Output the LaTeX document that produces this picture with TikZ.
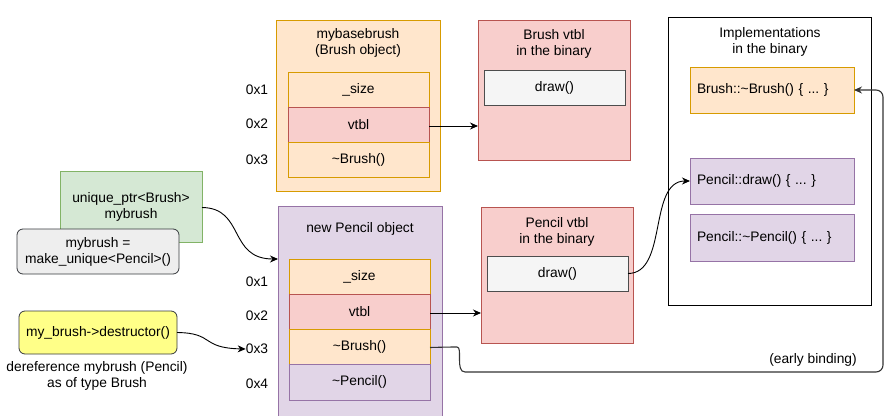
\documentclass[tikz,border=0pt]{standalone}
\usepackage{fontspec}
\setmainfont{Liberation Sans}
\usetikzlibrary{arrows.meta}
\definecolor{orF}{HTML}{FFE6CC}\definecolor{orD}{HTML}{D79B00}
\definecolor{rdF}{HTML}{F8CECC}\definecolor{rdD}{HTML}{B85450}
\definecolor{puF}{HTML}{E1D5E7}\definecolor{puD}{HTML}{9673A6}
\definecolor{grF}{HTML}{D5E8D4}\definecolor{grD}{HTML}{82B366}
\definecolor{gyF}{HTML}{F5F5F5}\definecolor{gyD}{HTML}{4D4D4D}
\definecolor{ltF}{HTML}{EEEEEE}\definecolor{dkD}{HTML}{36393D}
\definecolor{yeF}{HTML}{FFFF88}
\definecolor{lnG}{HTML}{333333}
\frenchspacing
\tikzset{
  txt/.style={font=\fontsize{13.8}{16}\selectfont, align=center, inner sep=0pt},
  box/.style={txt, draw, rectangle, anchor=north west, outer sep=0pt, line width=0.8pt},
  orbox/.style={box, fill=orF, draw=orD},
  rdbox/.style={box, fill=rdF, draw=rdD},
  pubox/.style={box, fill=puF, draw=puD},
  grbox/.style={box, fill=grF, draw=grD},
  gybox/.style={box, fill=gyF, draw=gyD},
  ttl/.style={txt, anchor=north},
  impl/.style={box, text width=150pt, inner xsep=7pt, align=left, minimum height=46pt},
  arr/.style={-{Stealth[length=8pt,width=7pt]}, line width=0.9pt},
}
\begin{document}
\begin{tikzpicture}[x=1pt,y=-1pt]
\useasboundingbox (0,0) rectangle (891,415);
\clip (0,0) rectangle (891,415);
% mybasebrush
\node[orbox, minimum width=164pt, minimum height=171pt] (mbb) at (276,20) {};
\node[ttl] (mbbT) at (358,28.5) {mybasebrush\\(Brush object)};
\node[orbox, minimum width=141pt, minimum height=35pt] (mb1) at (288,72) {\_size};
\node[rdbox, minimum width=141pt, minimum height=35pt] (mb2) at (288,107) {vtbl};
\node[orbox, minimum width=141pt, minimum height=35pt] (mb3) at (288,142) {\textasciitilde Brush()};
\node[txt] (ma1) at (257,90) {0x1};
\node[txt] (ma2) at (257,124) {0x2};
\node[txt] (ma3) at (257,160) {0x3};
% Brush vtbl
\node[rdbox, minimum width=152pt, minimum height=140pt] (bvt) at (478,20) {};
\node[ttl] (bvtT) at (554,29.5) {Brush vtbl\\in the binary};
\node[gybox, minimum width=141pt, minimum height=35pt] (bdraw) at (484,70) {draw()};
% new Pencil object
\node[pubox, minimum width=164pt, minimum height=220pt] (pen) at (278,206) {};
\node[ttl] (penT) at (360,222.5) {new Pencil object};
\node[orbox, minimum width=141pt, minimum height=35pt] (p1) at (289,259) {\_size};
\node[rdbox, minimum width=141pt, minimum height=35pt] (p2) at (289,294) {vtbl};
\node[orbox, minimum width=141pt, minimum height=35pt] (p3) at (289,329) {\textasciitilde Brush()};
\node[pubox, minimum width=141pt, minimum height=36pt] (p4) at (289,364) {\textasciitilde Pencil()};
\node[txt] (pa1) at (257,282) {0x1};
\node[txt] (pa2) at (257,316) {0x2};
\node[txt] (pa3) at (257,349) {0x3};
\node[txt] (pa4) at (257,384) {0x4};
% Pencil vtbl
\node[rdbox, minimum width=152pt, minimum height=136pt] (pvt) at (481,207) {};
\node[ttl] (pvtT) at (557,217.5) {Pencil vtbl\\in the binary};
\node[gybox, minimum width=141pt, minimum height=35pt] (pdraw) at (487,256) {draw()};
% Implementations
\node[box, fill=white, draw=black, minimum width=203pt, minimum height=288pt] (imp) at (668,17) {};
\node[ttl] (impT) at (770,27.5) {Implementations\\in the binary};
\node[impl, fill=orF, draw=orD] (ib) at (690,67) {Brush::\textasciitilde Brush() \{ ...\ \}};
\node[impl, fill=puF, draw=puD] (ipd) at (690,158) {Pencil::draw() \{ ...\ \}};
\node[impl, fill=puF, draw=puD, minimum height=47pt] (ipp) at (690,214) {Pencil::\textasciitilde Pencil() \{ ...\ \}};
% left side
\node[grbox, minimum width=142pt, minimum height=71pt] (up) at (60,171) {unique\_ptr<Brush>\\mybrush};
\node[box, fill=ltF, draw=dkD, rounded corners=6pt, minimum width=162pt, minimum height=45pt] (mk) at (17,229) {mybrush =\\make\_unique<Pencil>()};
\node[box, fill=yeF, draw=dkD, rounded corners=6pt, minimum width=158pt, minimum height=43pt] (ds) at (19,311) {my\_brush->destructor()};
\node[txt] (deref) at (97,376) {dereference mybrush (Pencil)\\as of type Brush};
\node[txt] (eb) at (813,360) {(early binding)};
% connectors
\draw[arr] (mb2.east) ++(0,1.5) coordinate (c1) -- (c1 -| bvt.west);
\draw[arr] (p2.east) ++(0,1.5) coordinate (c2) -- (c2 -| pvt.west);
\draw[arr] (up.east) ++(0,1) coordinate (c3) .. controls (245,208) and (228,259) .. (pen.west |- 0,259);
\draw[arr] (ds.east) .. controls (215,333) and (200,348) .. (pa3.west);
\draw[arr] (pdraw.east) .. controls (668,273.5) and (648,181) .. (ipd.west);
\draw[arr, draw=lnG, line width=1.1pt, rounded corners=7pt] (p3.east) ++(0,1) coordinate (c5) -- (450,347) .. controls (463,347) and (455,372) .. (472,372) -- (883,372) -- (883,90) -- (ib.east);
\end{tikzpicture}
\end{document}
